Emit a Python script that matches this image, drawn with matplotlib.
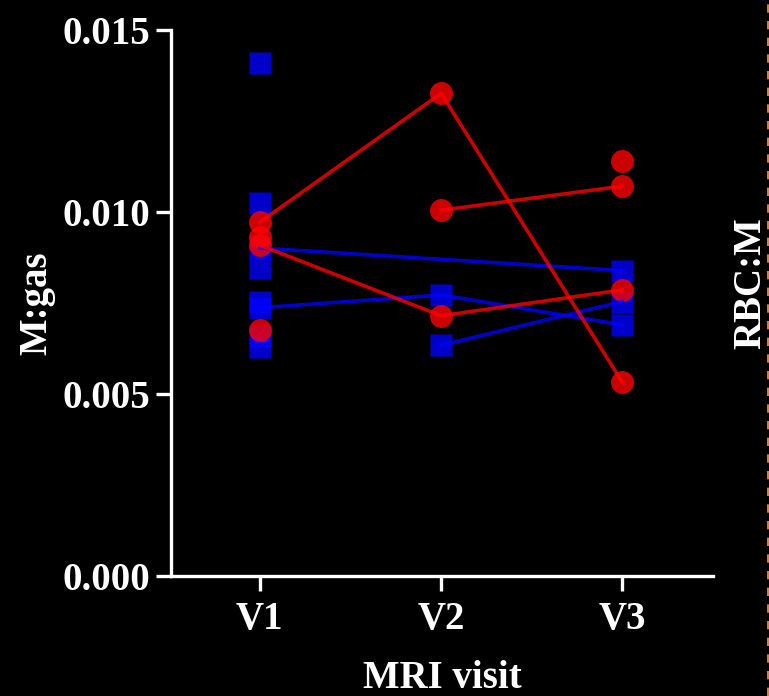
import numpy as np
import matplotlib
matplotlib.use('Agg')
import matplotlib.pyplot as plt
from matplotlib.lines import Line2D

visits = ['V1', 'V2', 'V3']
nan = np.nan

# M:gas values per visit (group 1 = blue squares, group 2 = red circles)
blue_v1 = [0.01409, 0.01024, 0.00901, 0.00846, 0.00752, 0.00737, 0.00660, 0.00629]
blue_v2 = [0.00772, 0.00634]
blue_v3 = [0.00839, 0.00754, 0.00690]
red_v1 = [0.00972, 0.00932, 0.00909, 0.00676]
red_v2 = [0.01326, 0.01005, 0.00715]
red_v3 = [0.01140, 0.01071, 0.00786, 0.00532]

# paired subjects (V1, V2, V3), nan = missing visit
blue_pairs = [[0.00901, nan, 0.00839],
              [0.00737, 0.00772, 0.00690],
              [nan, 0.00634, 0.00754]]
red_pairs = [[0.00972, 0.01326, 0.00532],
             [nan, 0.01005, 0.01071],
             [0.00909, 0.00715, 0.00786]]

plt.rcParams['font.family'] = 'Liberation Serif'
plt.rcParams['font.weight'] = 'bold'

fig = plt.figure(figsize=(7.69, 6.96), dpi=100, facecolor='black')
ax = fig.add_axes([0.2224, 0.1724, 0.7048, 0.7845], facecolor='black')

blue = '#0000ff'
red = '#ff0000'

for i, vals in enumerate([blue_v1, blue_v2, blue_v3]):
    ax.plot([i]*len(vals), vals, 's', color=blue, alpha=0.8, ms=15.5, mec='none', zorder=2)
for i, vals in enumerate([red_v1, red_v2, red_v3]):
    ax.plot([i]*len(vals), vals, 'o', color=red, alpha=0.8, ms=16.5, mec='none', zorder=3)

for p in blue_pairs:
    p = np.array(p)
    x = np.arange(3)[~np.isnan(p)]
    ax.plot(x, p[~np.isnan(p)], '-', color=blue, alpha=0.8, lw=2.6, zorder=4)
for p in red_pairs:
    p = np.array(p)
    x = np.arange(3)[~np.isnan(p)]
    ax.plot(x, p[~np.isnan(p)], '-', color=red, alpha=0.8, lw=2.6, zorder=5)

ax.set_xlim(-0.49, 2.5)
ax.set_ylim(0, 0.015)
ax.set_yticks([0, 0.005, 0.010, 0.015])
ax.set_yticklabels(['0.000', '0.005', '0.010', '0.015'])
ax.set_xticks(range(3))
ax.set_xticklabels(visits)

for s in ['top', 'right']:
    ax.spines[s].set_visible(False)
for s in ['left', 'bottom']:
    ax.spines[s].set_color('white')
    ax.spines[s].set_linewidth(2.4)
ax.tick_params(colors='white', width=2.4, length=11, labelsize=28, pad=4)
ax.tick_params(axis='x', pad=7)

ax.set_ylabel('M:gas', color='white', fontsize=28, fontweight='bold', labelpad=5)
ax.set_xlabel('MRI visit', color='white', fontsize=28, fontweight='bold', labelpad=16)

fig.text(0.976, 0.593, 'RBC:M', color='white', fontsize=28, fontweight='bold',
         rotation=90, ha='center', va='center')
fig.add_artist(Line2D([0.9987, 0.9987], [0, 1], transform=fig.transFigure,
                      color='#e07a30', lw=1.5, ls=(0, (4, 4))))

plt.savefig('out.png', dpi=100, facecolor='black')
plt.close()
